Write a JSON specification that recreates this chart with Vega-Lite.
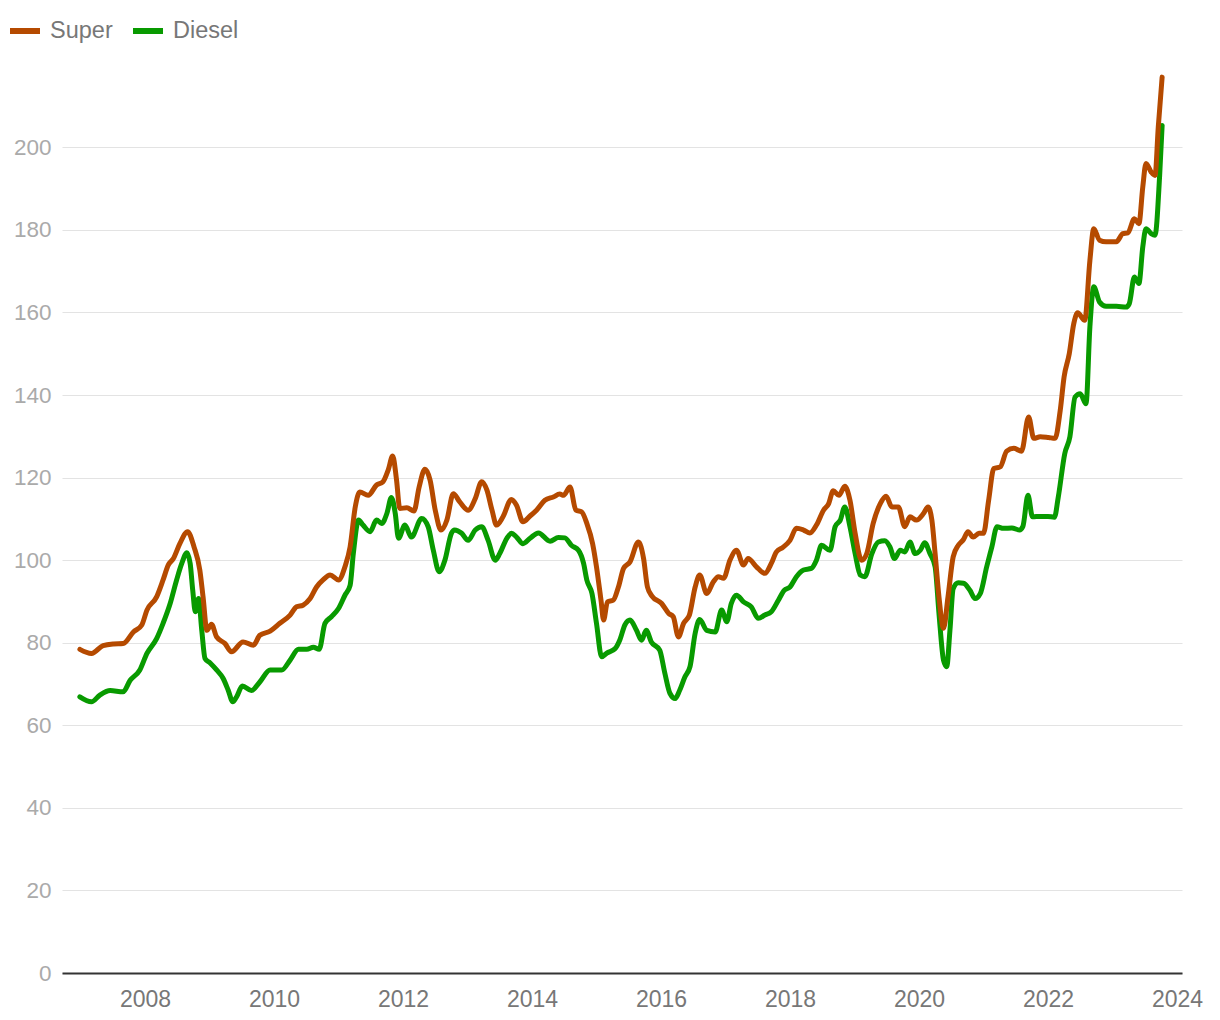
{
  "$schema": "https://vega.github.io/schema/vega-lite/v6.json",
  "width": 1120,
  "height": 900,
  "autosize": {"type": "none"},
  "padding": {"left": 62, "top": 73, "right": 38, "bottom": 47},
  "background": "white",
  "config": {
    "view": {"stroke": null},
    "font": "Liberation Sans"
  },
  "datasets": {
    "super": [
      [2006.99,78.4],[2007.17,77.4],[2007.35,79.3],[2007.51,79.7],[2007.66,79.8],[2007.82,82.6],[2007.95,84.3],[2008.03,87.9],[2008.18,91.1],[2008.28,95.2],[2008.36,98.8],[2008.44,100.4],[2008.54,104.0],[2008.66,106.9],[2008.76,103.2],[2008.85,97.6],[2008.9,91.1],[2008.96,83.0],[2009.03,84.5],[2009.11,81.4],[2009.24,79.8],[2009.34,77.8],[2009.52,80.2],[2009.68,79.4],[2009.78,81.8],[2009.94,82.8],[2010.09,84.7],[2010.25,86.7],[2010.35,88.7],[2010.45,89.1],[2010.56,90.7],[2010.66,93.5],[2010.76,95.2],[2010.87,96.4],[2011.0,95.2],[2011.1,98.4],[2011.18,103.2],[2011.26,112.9],[2011.33,116.5],[2011.46,115.7],[2011.59,118.2],[2011.69,119.0],[2011.77,121.8],[2011.84,125.2],[2011.9,119.4],[2011.95,112.5],[2012.06,112.7],[2012.17,111.9],[2012.25,117.7],[2012.34,122.0],[2012.42,119.4],[2012.5,112.1],[2012.59,107.3],[2012.68,109.7],[2012.78,116.1],[2012.88,114.1],[2013.01,112.1],[2013.12,114.9],[2013.22,119.0],[2013.3,117.0],[2013.38,112.1],[2013.45,108.5],[2013.55,110.5],[2013.68,114.7],[2013.76,113.3],[2013.86,109.3],[2013.97,110.7],[2014.07,112.1],[2014.2,114.5],[2014.33,115.3],[2014.43,116.0],[2014.49,115.7],[2014.59,117.7],[2014.68,112.1],[2014.77,111.7],[2014.85,108.9],[2014.94,104.0],[2015.0,98.4],[2015.07,90.3],[2015.11,85.5],[2015.17,89.9],[2015.26,90.3],[2015.34,93.5],[2015.42,98.0],[2015.52,99.6],[2015.65,104.4],[2015.73,100.4],[2015.79,93.5],[2015.86,91.3],[2016.01,89.5],[2016.12,87.1],[2016.19,86.3],[2016.27,81.4],[2016.35,84.7],[2016.44,86.7],[2016.53,93.5],[2016.6,96.4],[2016.71,91.9],[2016.81,94.7],[2016.89,96.0],[2016.97,95.6],[2017.07,100.0],[2017.17,102.4],[2017.28,98.8],[2017.35,100.4],[2017.48,98.4],[2017.61,96.8],[2017.71,99.2],[2017.79,102.0],[2017.89,103.1],[2018.0,104.8],[2018.1,107.7],[2018.21,107.3],[2018.31,106.6],[2018.41,108.5],[2018.52,112.1],[2018.6,113.7],[2018.67,116.8],[2018.76,115.7],[2018.85,117.9],[2018.93,114.5],[2019.01,106.5],[2019.11,100.0],[2019.19,101.6],[2019.29,108.9],[2019.4,113.7],[2019.49,115.5],[2019.58,112.9],[2019.68,112.9],[2019.78,108.1],[2019.86,110.5],[2019.96,109.7],[2020.07,111.3],[2020.14,112.9],[2020.2,109.7],[2020.25,101.6],[2020.31,91.1],[2020.38,83.5],[2020.45,91.1],[2020.53,100.8],[2020.61,103.6],[2020.69,105.0],[2020.76,106.9],[2020.84,105.6],[2020.93,106.5],[2021.0,106.5],[2021.08,114.5],[2021.16,122.2],[2021.26,122.6],[2021.36,126.4],[2021.47,127.1],[2021.59,126.4],[2021.7,134.7],[2021.78,129.5],[2021.88,129.9],[2022.01,129.7],[2022.11,129.5],[2022.19,136.3],[2022.25,144.4],[2022.33,150.0],[2022.4,157.3],[2022.46,159.9],[2022.57,158.1],[2022.65,172.6],[2022.71,180.3],[2022.8,177.5],[2022.9,177.1],[2023.06,177.1],[2023.16,179.1],[2023.24,179.3],[2023.34,182.7],[2023.41,181.5],[2023.47,190.4],[2023.52,196.1],[2023.6,194.0],[2023.66,193.2],[2023.71,204.9],[2023.77,217.0]
    ],
    "diesel": [
      [2006.99,66.9],[2007.17,65.7],[2007.3,67.3],[2007.46,68.4],[2007.66,68.1],[2007.77,70.9],[2007.92,73.4],[2008.03,77.4],[2008.18,81.0],[2008.28,84.7],[2008.39,89.5],[2008.49,95.2],[2008.57,99.2],[2008.65,101.8],[2008.7,99.2],[2008.74,92.7],[2008.78,87.5],[2008.83,90.7],[2008.88,83.0],[2008.93,76.2],[2009.01,75.1],[2009.11,73.4],[2009.21,71.4],[2009.29,68.5],[2009.36,65.7],[2009.42,66.9],[2009.51,69.5],[2009.65,68.4],[2009.78,70.5],[2009.94,73.4],[2010.12,73.4],[2010.25,75.8],[2010.38,78.4],[2010.51,78.4],[2010.61,78.9],[2010.7,78.4],[2010.79,84.7],[2010.89,86.3],[2011.0,88.3],[2011.1,91.5],[2011.18,93.9],[2011.23,101.6],[2011.31,109.7],[2011.38,108.5],[2011.49,106.9],[2011.59,109.7],[2011.67,108.9],[2011.75,111.3],[2011.82,115.2],[2011.88,111.3],[2011.93,105.3],[2012.03,108.5],[2012.13,105.6],[2012.29,110.1],[2012.39,108.1],[2012.47,102.4],[2012.56,97.2],[2012.65,100.0],[2012.75,106.5],[2012.8,107.3],[2012.91,106.5],[2013.01,104.8],[2013.12,107.3],[2013.22,108.1],[2013.32,104.8],[2013.43,100.0],[2013.5,101.6],[2013.61,105.3],[2013.68,106.5],[2013.76,105.6],[2013.86,104.0],[2013.97,105.3],[2014.1,106.6],[2014.28,104.6],[2014.41,105.5],[2014.51,105.4],[2014.61,103.6],[2014.72,102.4],[2014.8,99.2],[2014.85,95.2],[2014.93,91.9],[2015.0,84.7],[2015.08,76.6],[2015.16,77.5],[2015.29,78.6],[2015.36,80.6],[2015.44,84.3],[2015.52,85.5],[2015.62,83.0],[2015.7,80.6],[2015.77,83.0],[2015.85,80.2],[2015.98,78.2],[2016.06,72.6],[2016.14,67.7],[2016.22,66.5],[2016.29,68.5],[2016.37,71.7],[2016.45,74.2],[2016.53,82.3],[2016.6,85.6],[2016.71,83.0],[2016.84,82.6],[2016.94,87.9],[2017.02,85.1],[2017.09,89.5],[2017.17,91.5],[2017.28,89.9],[2017.4,88.7],[2017.51,85.9],[2017.61,86.7],[2017.71,87.5],[2017.82,90.3],[2017.91,92.7],[2018.0,93.5],[2018.1,96.0],[2018.21,97.6],[2018.33,98.0],[2018.41,100.0],[2018.49,103.6],[2018.62,102.4],[2018.7,108.1],[2018.78,109.7],[2018.85,112.9],[2018.93,108.1],[2019.01,101.6],[2019.09,96.4],[2019.16,96.0],[2019.27,101.6],[2019.37,104.4],[2019.47,104.7],[2019.55,103.2],[2019.62,100.4],[2019.71,102.4],[2019.78,102.0],[2019.86,104.4],[2019.94,101.6],[2020.02,102.4],[2020.09,104.2],[2020.17,101.6],[2020.25,98.4],[2020.31,87.1],[2020.38,75.8],[2020.43,74.2],[2020.48,83.0],[2020.53,93.1],[2020.61,94.5],[2020.69,94.4],[2020.79,92.7],[2020.87,90.7],[2020.95,91.9],[2021.05,98.4],[2021.13,103.2],[2021.21,108.1],[2021.31,107.7],[2021.44,107.8],[2021.56,107.3],[2021.61,108.1],[2021.69,115.7],[2021.76,110.5],[2021.88,110.6],[2022.0,110.6],[2022.1,110.4],[2022.16,115.3],[2022.26,125.8],[2022.34,129.9],[2022.42,139.5],[2022.5,140.3],[2022.59,137.9],[2022.65,156.5],[2022.71,166.2],[2022.8,162.5],[2022.9,161.5],[2023.06,161.5],[2023.21,161.3],[2023.26,162.1],[2023.34,168.6],[2023.41,167.0],[2023.47,175.9],[2023.52,180.3],[2023.6,179.1],[2023.66,178.7],[2023.73,192.8],[2023.77,205.3]
    ]
  },
  "layer": [
    {
      "data": {"name": "diesel"},
      "transform": [
        {"calculate": "'Diesel'", "as": "fuel"},
        {"calculate": "datum[0]", "as": "year"},
        {"calculate": "datum[1]", "as": "price"}
      ],
      "mark": {"type": "line", "interpolate": "monotone", "strokeWidth": 5, "strokeCap": "round", "strokeJoin": "round"},
      "encoding": {
        "x": {"field": "year", "type": "quantitative"},
        "y": {"field": "price", "type": "quantitative"},
        "color": {"field": "fuel", "type": "nominal"}
      }
    },
    {
      "data": {"name": "super"},
      "transform": [
        {"calculate": "'Super'", "as": "fuel"},
        {"calculate": "datum[0]", "as": "year"},
        {"calculate": "datum[1]", "as": "price"}
      ],
      "mark": {"type": "line", "interpolate": "monotone", "strokeWidth": 5, "strokeCap": "round", "strokeJoin": "round"},
      "encoding": {
        "x": {
          "field": "year", "type": "quantitative",
          "scale": {"domain": [2006.713, 2024.078], "nice": false, "zero": false},
          "axis": {
            "title": null, "values": [2008, 2010, 2012, 2014, 2016, 2018, 2020, 2022, 2024],
            "format": "d", "grid": false, "ticks": false,
            "domainColor": "#333333", "domainWidth": 2,
            "labelFontSize": 23, "labelColor": "#777777", "labelPadding": 15, "labelFlush": false
          }
        },
        "y": {
          "field": "price", "type": "quantitative",
          "scale": {"domain": [0, 218], "nice": false},
          "axis": {
            "title": null, "values": [0, 20, 40, 60, 80, 100, 120, 140, 160, 180, 200],
            "domain": false, "ticks": false, "gridColor": "#e3e3e3", "gridWidth": 1,
            "labelFontSize": 22.5, "labelColor": "#aaaaaa", "labelPadding": 11
          }
        },
        "color": {
          "field": "fuel", "type": "nominal",
          "scale": {"domain": ["Super", "Diesel"], "range": ["#b54a00", "#089a00"]},
          "legend": {
            "title": null, "orient": "none", "legendX": -55, "legendY": -60,
            "direction": "horizontal", "symbolType": "stroke", "symbolStrokeWidth": 6,
            "symbolSize": 900, "labelFontSize": 23.5, "labelColor": "#777777",
            "labelOffset": 7, "columnPadding": 8, "padding": 0
          }
        }
      }
    }
  ]
}
